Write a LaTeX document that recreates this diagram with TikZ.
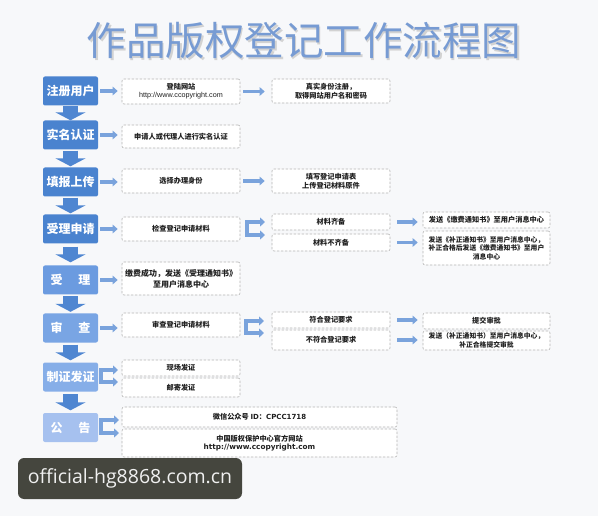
\documentclass[tikz,border=0pt]{standalone}
\usepackage{fontspec}
\setmainfont{Liberation Sans}
\newfontfamily\cjk{Noto Sans CJK SC}
\newfontfamily\dvs{DejaVu Sans}
\newfontfamily\wmfont{Open Sans}
\usetikzlibrary{arrows.meta,calc}
\definecolor{bgc}{HTML}{F7F8FA}
\definecolor{boxA}{HTML}{4A83CF}
\definecolor{boxB}{HTML}{6B9BE0}
\definecolor{boxC}{HTML}{79A5E4}
\definecolor{boxD}{HTML}{86AEE8}
\definecolor{boxE}{HTML}{A6C1EF}
\definecolor{downc}{HTML}{4F86D1}
\definecolor{arrc}{HTML}{7AA3DC}
\definecolor{titlec}{HTML}{779BD3}
\definecolor{dashc}{HTML}{B4B4B4}
\definecolor{wmbg}{HTML}{45463E}
\begin{document}
\begin{tikzpicture}[x=1pt,y=-1pt,
  stepbox/.style={rounded corners=2pt, minimum width=55pt, minimum height=29pt, inner sep=0pt,
    text=white, font=\cjk\bfseries\fontsize{12}{14}\selectfont},
  dbox/.style={draw=dashc, dash pattern=on 2.5pt off 1.5pt, rounded corners=2pt, fill=white,
    line width=0.6pt, inner sep=0pt, align=center, text=black!88,
    font=\cjk\bfseries\fontsize{7.2}{9}\selectfont},
  harrow/.style={draw=arrc, line width=3.5pt, -{Triangle[width=8.5pt,length=5pt]}},
  fork/.style={draw=arrc, line width=4pt, line join=miter,
    {Triangle[width=9pt,length=5pt]}-{Triangle[width=9pt,length=5pt]}},
  darrow/.style={draw=downc, line width=15pt, -{Triangle[width=30pt,length=8pt]}}
]
\useasboundingbox (0,0) rectangle (598,516);
\fill[bgc] (0,0) rectangle (598,516);

% title
\node[text=gray!35, font=\cjk\fontsize{39.5}{42}\selectfont] at (305.5,42.5) {作品版权登记工作流程图};
\node (title) [text=titlec, font=\cjk\fontsize{39.5}{42}\selectfont] at (304,41) {作品版权登记工作流程图};

% left column
\node (L1) [stepbox, fill=boxA] at (70.5,91) {注册用户};
\node (L2) [stepbox, fill=boxA] at (70.5,135) {实名认证};
\node (L3) [stepbox, fill=boxA] at (70.5,182) {填报上传};
\node (L4) [stepbox, fill=boxA] at (70.5,229) {受理申请};
\node (L5) [stepbox, fill=boxB] at (70.5,280) {受\hspace{16pt}理};
\node (L6) [stepbox, fill=boxC] at (70.5,328) {审\hspace{16pt}查};
\node (L7) [stepbox, fill=boxD] at (70.5,377) {制证发证};
\node (L8) [stepbox, fill=boxE] at (70.5,427.5) {公\hspace{16pt}告};

% middle column
\node (M1) [dbox, minimum width=118pt, minimum height=25pt] at (181,91.5) {登陆网站\\[-1pt]{\fontspec{Liberation Sans}\mdseries\fontsize{7.2}{9}\selectfont http://www.ccopyright.com}};
\node (M2) [dbox, minimum width=118pt, minimum height=23pt] at (181,136.5) {申请人或代理人进行实名认证};
\node (M3) [dbox, minimum width=118pt, minimum height=24pt] at (181,181) {选择办理身份};
\node (M4) [dbox, minimum width=118pt, minimum height=24pt] at (181,229) {检查登记申请材料};
\node (M5) [dbox, minimum width=118pt, minimum height=33pt, font=\cjk\bfseries\fontsize{8}{11}\selectfont] at (181,278.5) {缴费成功，发送《受理通知书》\\至用户消息中心};
\node (M6) [dbox, minimum width=118pt, minimum height=24pt] at (181,325) {审查登记申请材料};
\node (M7a) [dbox, minimum width=118pt, minimum height=16pt] at (181,368) {现场发证};
\node (M7b) [dbox, minimum width=118pt, minimum height=19pt] at (181,387.5) {邮寄发证};
\node (M8a) [dbox, minimum width=275pt, minimum height=20pt] at (259.5,417) {微信公众号 {\dvs\fontsize{7}{9}\selectfont ID}：{\dvs\fontsize{7}{9}\selectfont CPCC1718}};
\node (M8b) [dbox, minimum width=275pt, minimum height=28pt] at (259.5,443) {中国版权保护中心官方网站\\[-1pt]{\dvs\bfseries\fontsize{7.3}{9}\selectfont http://www.ccopyright.com}};

% third column
\node (T1) [dbox, minimum width=118pt, minimum height=24pt] at (331,91) {真实身份注册，\\取得网站用户名和密码};
\node (T3) [dbox, minimum width=118pt, minimum height=24pt] at (331,181) {填写登记申请表\\上传登记材料原件};
\node (T4a) [dbox, minimum width=118pt, minimum height=16pt] at (331,222) {材料齐备};
\node (T4b) [dbox, minimum width=118pt, minimum height=17pt] at (331,242.5) {材料不齐备};
\node (T6a) [dbox, minimum width=118pt, minimum height=16pt] at (331,320) {符合登记要求};
\node (T6b) [dbox, minimum width=118pt, minimum height=20pt] at (331,340) {不符合登记要求};

% fourth column
\node (F4a) [dbox, minimum width=127pt, minimum height=16pt] at (486.5,220) {发送《缴费通知书》至用户消息中心};
\node (F4b) [dbox, minimum width=127pt, minimum height=34pt, font=\cjk\bfseries\fontsize{6.8}{8.4}\selectfont] at (486.5,248) {发送《补正通知书》至用户消息中心，\\补正合格后发送《缴费通知书》至用户\\消息中心};
\node (F6a) [dbox, minimum width=127pt, minimum height=16pt] at (486.5,321) {提交审批};
\node (F6b) [dbox, minimum width=127pt, minimum height=19pt, font=\cjk\bfseries\fontsize{6.8}{8.4}\selectfont] at (486.5,340.5) {发送（补正通知书）至用户消息中心，\\补正合格提交审批};

% down arrows
\draw[darrow, shorten <=0pt, shorten >=0pt] (L1.south) -- (L2.north);
\draw[darrow, shorten <=1pt, shorten >=1pt] (L2.south) -- (L3.north);
\draw[darrow, shorten <=1pt, shorten >=1pt] (L3.south) -- (L4.north);
\draw[darrow, shorten <=3pt, shorten >=3pt] (L4.south) -- (L5.north);
\draw[darrow, shorten <=1.5pt, shorten >=1.5pt] (L5.south) -- (L6.north);
\draw[darrow, shorten <=2pt, shorten >=2pt] (L6.south) -- (L7.north);
\draw[darrow, shorten <=2.5pt, shorten >=2.5pt] (L7.south) -- (L8.north);

% horizontal arrows col1 -> col2
\foreach \a/\b in {L1/M1, L2/M2, L3/M3, L4/M4, L5/M5, L6/M6}
  \draw[harrow, shorten <=2pt, shorten >=4pt] (\a.east) -- (\a.east -| \b.west);
% col2 -> col3
\draw[harrow, shorten <=3pt, shorten >=7pt] (M1.east) -- (M1.east -| T1.west);
\draw[harrow, shorten <=3pt, shorten >=7pt] (M3.east) -- (M3.east -| T3.west);
% col3 -> col4
\draw[harrow, shorten <=7pt, shorten >=5pt] (T4a.east) -- (T4a.east -| F4a.west);
\draw[harrow, shorten <=7pt, shorten >=5pt] (T4b.east) -- (T4b.east -| F4b.west);
\draw[harrow, shorten <=7pt, shorten >=5pt] (T6a.east) -- (T6a.east -| F6a.west);
\draw[harrow, shorten <=7pt, shorten >=5pt] (T6b.east) -- (T6b.east -| F6b.west);

% fork arrows
\coordinate (k4a) at (265,222); \coordinate (k4b) at (265,235);
\draw[fork] (k4a) -- ++(-18,0) |- (k4b);
\coordinate (k6a) at (264,321); \coordinate (k6b) at (264,333);
\draw[fork] (k6a) -- ++(-18,0) |- (k6b);
\coordinate (k7a) at (118,370); \coordinate (k7b) at (118,382);
\draw[fork] (k7a) -- ++(-17,0) |- (k7b);
\coordinate (k8a) at (119,420); \coordinate (k8b) at (119,433);
\draw[fork] (k8a) -- ++(-18,0) |- (k8b);

% watermark
\node (wm) [fill=wmbg, rounded corners=6pt, minimum width=224pt, minimum height=41pt, inner sep=0pt,
  text=white!94!black, font=\wmfont\fontsize{19.5}{22}\selectfont] at (130,478.5) {official-hg8868.com.cn};
\end{tikzpicture}
\end{document}
